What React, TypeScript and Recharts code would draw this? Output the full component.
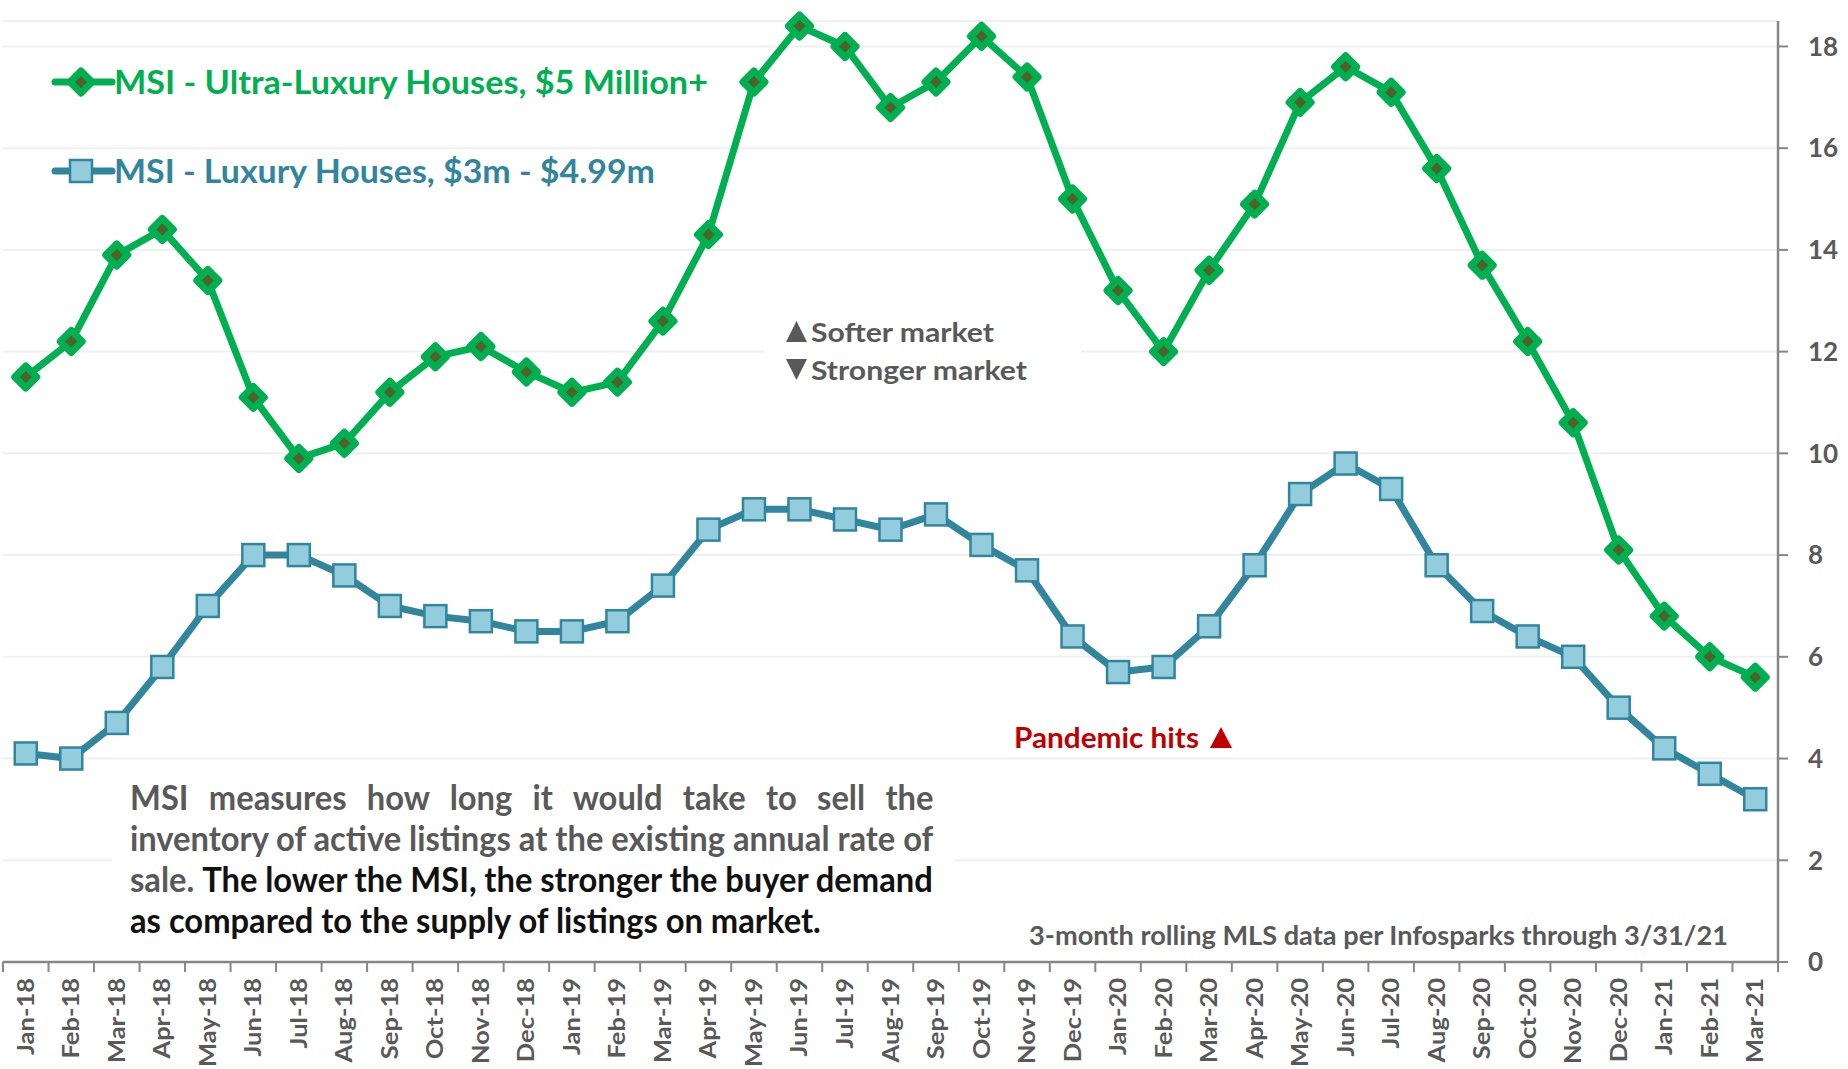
import React from "react";
import { CartesianGrid, Line, LineChart, XAxis, YAxis } from "recharts";

const months = [
  "Jan-18", "Feb-18", "Mar-18", "Apr-18", "May-18", "Jun-18", "Jul-18", "Aug-18", "Sep-18", "Oct-18", "Nov-18", "Dec-18",
  "Jan-19", "Feb-19", "Mar-19", "Apr-19", "May-19", "Jun-19", "Jul-19", "Aug-19", "Sep-19", "Oct-19", "Nov-19", "Dec-19",
  "Jan-20", "Feb-20", "Mar-20", "Apr-20", "May-20", "Jun-20", "Jul-20", "Aug-20", "Sep-20", "Oct-20", "Nov-20", "Dec-20",
  "Jan-21", "Feb-21", "Mar-21",
];

const ultraLuxury = [
  11.5, 12.2, 13.9, 14.4, 13.4, 11.1, 9.9, 10.2, 11.2, 11.9, 12.1, 11.6,
  11.2, 11.4, 12.6, 14.3, 17.3, 18.4, 18.0, 16.8, 17.3, 18.2, 17.4, 15.0,
  13.2, 12.0, 13.6, 14.9, 16.9, 17.6, 17.1, 15.6, 13.7, 12.2, 10.6, 8.1,
  6.8, 6.0, 5.6,
];

const luxury = [
  4.1, 4.0, 4.7, 5.8, 7.0, 8.0, 8.0, 7.6, 7.0, 6.8, 6.7, 6.5,
  6.5, 6.7, 7.4, 8.5, 8.9, 8.9, 8.7, 8.5, 8.8, 8.2, 7.7, 6.4,
  5.7, 5.8, 6.6, 7.8, 9.2, 9.8, 9.3, 7.8, 6.9, 6.4, 6.0, 5.0,
  4.2, 3.7, 3.2,
];

const yTicks = [0, 2, 4, 6, 8, 10, 12, 14, 16, 18];

const data = months.map((m, i) => ({ month: m, ultra: ultraLuxury[i], lux: luxury[i] }));

const GREEN = "#00B050";
const OLIVE = "#4F6228";
const TEAL = "#31859C";
const LIGHT_BLUE = "#93CDDD";
const GRAY = "#595959";
const RED = "#C00000";
const AXIS = "#868686";
const FONT = "Lato, 'Open Sans', sans-serif";

const W = 1848;
const H = 1069;
const HALF_BAND = 1775 / 39 / 2;

function measure(text: string, font: string) {
  const ctx = document.createElement("canvas").getContext("2d");
  if (!ctx) return text.length * 16;
  ctx.font = font;
  return ctx.measureText(text).width;
}

function Diamond({ cx, cy, r = 11 }: { cx: number; cy: number; r?: number }) {
  return (
    <path
      d={`M${cx},${cy - r}L${cx + r},${cy}L${cx},${cy + r}L${cx - r},${cy}Z`}
      fill={OLIVE}
      stroke={GREEN}
      strokeWidth={7}
      strokeLinejoin="round"
    />
  );
}

function Square({ cx, cy, s = 22 }: { cx: number; cy: number; s?: number }) {
  return (
    <rect x={cx - s / 2} y={cy - s / 2} width={s} height={s} fill={LIGHT_BLUE} stroke={TEAL} strokeWidth={2.5} />
  );
}

// little triangle glyphs used in the annotations
function Tri({ x, base, w, h, up, fill }: { x: number; base: number; w: number; h: number; up: boolean; fill: string }) {
  const d = up
    ? `M${x},${base}L${x + w},${base}L${x + w / 2},${base - h}Z`
    : `M${x},${base - h}L${x + w},${base - h}L${x + w / 2},${base}Z`;
  return <path d={d} fill={fill} />;
}

function MonthTick(props: any) {
  const { x, y, payload, index } = props;
  const last = index === months.length - 1;
  return (
    <g>
      <line x1={x - HALF_BAND} x2={x - HALF_BAND} y1={y} y2={y + 10} stroke={AXIS} strokeWidth={2} />
      {last && <line x1={x + HALF_BAND} x2={x + HALF_BAND} y1={y} y2={y + 10} stroke={AXIS} strokeWidth={2} />}
      <text
        transform={`translate(${x + 8},${y + 16}) rotate(-90) scale(1.11,1)`}
        textAnchor="end"
        fill={GRAY}
        fontSize={23}
        fontWeight={700}
        fontFamily={FONT}
      >
        {payload.value}
      </text>
    </g>
  );
}

function BodyText() {
  const font = `bold 34px Lato`;
  const target = 805;
  const l1 = "MSI measures how long it would take to sell the";
  const l2 = "inventory of active listings at the existing annual rate of";
  const l3a = "sale. ";
  const l3b = "The lower the MSI, the stronger the buyer demand";
  const l4 = "as compared to the supply of listings on market.";
  const sx = target / measure(l2, font);
  const ws = (t: string) => (target / sx - measure(t, font)) / (t.split(" ").length - 1);
  const common = { fontSize: 34, fontWeight: 700, fontFamily: FONT };
  return (
    <g>
      <text transform={`translate(130,810) scale(${sx},1)`} wordSpacing={ws(l1)} fill={GRAY} {...common}>
        {l1}
      </text>
      <text transform={`translate(130,851) scale(${sx},1)`} fill={GRAY} {...common}>
        {l2}
      </text>
      <text transform={`translate(130,892) scale(${sx},1)`} wordSpacing={ws(l3a + l3b)} {...common}>
        <tspan fill={GRAY}>{l3a}</tspan>
        <tspan fill="#111111">{l3b}</tspan>
      </text>
      <text transform={`translate(130,933) scale(${sx},1)`} fill="#111111" {...common}>
        {l4}
      </text>
    </g>
  );
}

function Overlay() {
  return (
    <svg width={W} height={H} style={{ position: "absolute", left: 0, top: 0, pointerEvents: "none" }}>
      {/* legend */}
      <line x1={55} x2={112} y1={82} y2={82} stroke={GREEN} strokeWidth={7} strokeLinecap="round" />
      <Diamond cx={81} cy={82} />
      <text x={114} y={94} textLength={594} lengthAdjust="spacingAndGlyphs" fill={GREEN} fontSize={33} fontWeight={700} fontFamily={FONT}>
        MSI - Ultra-Luxury Houses, $5 Million+
      </text>
      <line x1={55} x2={112} y1={171} y2={171} stroke={TEAL} strokeWidth={7} strokeLinecap="round" />
      <Square cx={81} cy={171} />
      <text x={114} y={183} textLength={541} lengthAdjust="spacingAndGlyphs" fill={TEAL} fontSize={33} fontWeight={700} fontFamily={FONT}>
        MSI - Luxury Houses, $3m - $4.99m
      </text>

      {/* softer / stronger box */}
      <rect x={764} y={340} width={317} height={24} fill="#fff" />
      <Tri x={786} base={342} w={21} h={21} up fill={GRAY} />
      <text x={811} y={342} textLength={183} lengthAdjust="spacingAndGlyphs" fill={GRAY} fontSize={27} fontWeight={700} fontFamily={FONT}>
        Softer market
      </text>
      <Tri x={786} base={380} w={21} h={21} up={false} fill={GRAY} />
      <text x={811} y={380} textLength={216} lengthAdjust="spacingAndGlyphs" fill={GRAY} fontSize={27} fontWeight={700} fontFamily={FONT}>
        Stronger market
      </text>

      {/* pandemic */}
      <text x={1014} y={748} textLength={185} lengthAdjust="spacingAndGlyphs" fill={RED} fontSize={29} fontWeight={700} fontFamily={FONT}>
        Pandemic hits
      </text>
      <Tri x={1210} base={748} w={22} h={21} up fill={RED} />

      {/* explanation box */}
      <rect x={112} y={848} width={843} height={24} fill="#fff" />
      <BodyText />

      {/* footnote */}
      <text x={1029} y={945} textLength={699} lengthAdjust="spacingAndGlyphs" fill={GRAY} fontSize={27} fontWeight={700} fontFamily={FONT}>
        3-month rolling MLS data per Infosparks through 3/31/21
      </text>
    </svg>
  );
}

export default function App() {
  return (
    <div style={{ position: "absolute", left: 0, top: 0, width: W, height: H, background: "#fff" }}>
      <LineChart width={W} height={H} data={data} margin={{ top: 21, right: 10, bottom: 0, left: 3 }}>
        <CartesianGrid vertical={false} stroke="#F0F0F0" strokeWidth={2} />
        <XAxis
          dataKey="month"
          interval={0}
          height={107}
          padding={{ left: HALF_BAND, right: HALF_BAND }}
          tickLine={false}
          tickSize={0}
          tickMargin={0}
          axisLine={{ stroke: AXIS, strokeWidth: 2.5 }}
          tick={<MonthTick />}
        />
        <YAxis
          orientation="right"
          width={60}
          domain={[0, 18.5]}
          ticks={yTicks}
          tickSize={10}
          tickMargin={20}
          axisLine={{ stroke: AXIS, strokeWidth: 2.5 }}
          tickLine={{ stroke: AXIS, strokeWidth: 2 }}
          tick={{ fill: GRAY, fontSize: 26, fontWeight: 700, fontFamily: FONT }}
        />
        <Line
          dataKey="lux"
          stroke={TEAL}
          strokeWidth={7}
          isAnimationActive={false}
          dot={(p: any) => <Square key={`s${p.index}`} cx={p.cx} cy={p.cy} />}
        />
        <Line
          dataKey="ultra"
          stroke={GREEN}
          strokeWidth={7}
          isAnimationActive={false}
          dot={(p: any) => <Diamond key={`d${p.index}`} cx={p.cx} cy={p.cy} />}
        />
      </LineChart>
      <Overlay />
    </div>
  );
}
